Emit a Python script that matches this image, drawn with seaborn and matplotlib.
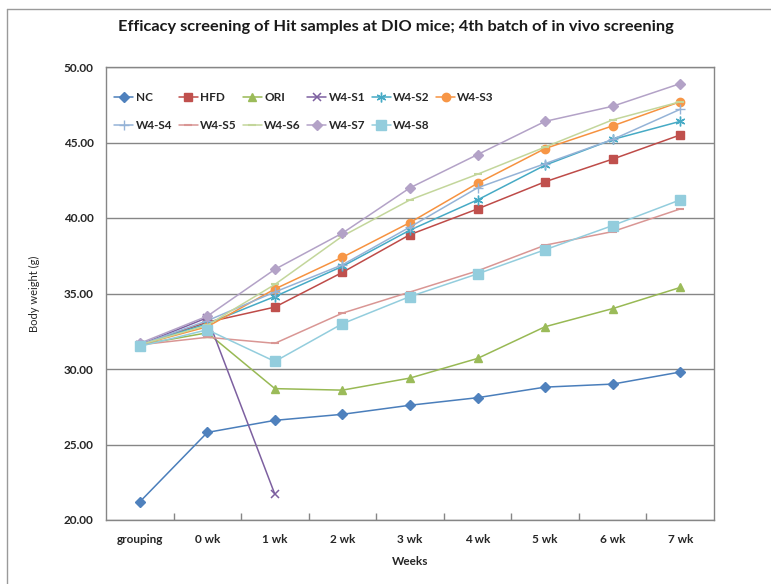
import numpy as np
import pandas as pd
import matplotlib
matplotlib.use("Agg")
import matplotlib.pyplot as plt
import seaborn as sns
from matplotlib.lines import Line2D

# Body weight (g) per group over the screening period
categories = ["grouping", "0 wk", "1 wk", "2 wk", "3 wk", "4 wk", "5 wk", "6 wk", "7 wk"]
nc     = [21.2, 25.8, 26.6, 27.0, 27.6, 28.1, 28.8, 29.0, 29.8]
hfd    = [31.6, 33.1, 34.1, 36.4, 38.9, 40.6, 42.4, 43.9, 45.5]
ori    = [31.6, 32.4, 28.7, 28.6, 29.4, 30.7, 32.8, 34.0, 35.4]
w4_s1  = [31.6, 33.4, 21.7, np.nan, np.nan, np.nan, np.nan, np.nan, np.nan]
w4_s2  = [31.6, 33.0, 34.8, 36.8, 39.2, 41.2, 43.5, 45.2, 46.4]
w4_s3  = [31.6, 32.8, 35.3, 37.4, 39.7, 42.3, 44.6, 46.1, 47.7]
w4_s4  = [31.6, 33.2, 35.1, 36.9, 39.4, 42.0, 43.6, 45.2, 47.2]
w4_s5  = [31.6, 32.1, 31.7, 33.7, 35.1, 36.5, 38.2, 39.1, 40.6]
w4_s6  = [31.6, 32.9, 35.6, 38.8, 41.2, 42.9, 44.7, 46.5, 47.7]
w4_s7  = [31.7, 33.5, 36.6, 39.0, 42.0, 44.2, 46.4, 47.4, 48.9]
w4_s8  = [31.5, 32.6, 30.5, 33.0, 34.8, 36.3, 37.9, 39.5, 41.2]
y_ticks = [20, 25, 30, 35, 40, 45, 50]

series_names = ["NC", "HFD", "ORI", "W4-S1", "W4-S2", "W4-S3",
                "W4-S4", "W4-S5", "W4-S6", "W4-S7", "W4-S8"]
series_values = [nc, hfd, ori, w4_s1, w4_s2, w4_s3, w4_s4, w4_s5, w4_s6, w4_s7, w4_s8]

# line colour, marker colour, marker, marker size, marker edge width
styles = {
    "NC":    ("#4A7EBB", "#4F81BD", "D", 4.6, 1.0),
    "HFD":   ("#BE4B48", "#C0504D", "s", 5.6, 1.0),
    "ORI":   ("#98B954", "#9BBB59", "^", 6.0, 1.0),
    "W4-S1": ("#7D60A0", "#7D60A0", "x", 5.5, 1.1),
    "W4-S2": ("#46AAC5", "#46AAC5", (6, 2, 0), 7.0, 1.0),
    "W4-S3": ("#F69240", "#F79646", "o", 6.0, 1.0),
    "W4-S4": ("#95B3D7", "#95B3D7", "+", 7.0, 1.0),
    "W4-S5": ("#D99694", "#D99694", "_", 5.5, 1.5),
    "W4-S6": ("#C3D69B", "#C3D69B", "_", 5.5, 1.5),
    "W4-S7": ("#B3A2C7", "#B3A2C7", "D", 5.0, 1.0),
    "W4-S8": ("#93CDDD", "#93CDDD", "s", 6.5, 1.0),
}

sns.set_theme(style="white")
plt.rcParams["font.family"] = ["Lato", "DejaVu Sans"]

fig = plt.figure(figsize=(7.71, 5.84), dpi=100)
ax = fig.add_axes([106 / 771, 64 / 584, 608 / 771, 453 / 584])

x_pos = np.arange(len(categories))
frames = []
for name, vals in zip(series_names, series_values):
    frames.append(pd.DataFrame({"pos": x_pos, "weight": vals, "group": name}))
df = pd.concat(frames, ignore_index=True)

for name in series_names:
    lc, mc, mk, ms, mew = styles[name]
    sub = df[df["group"] == name].dropna()
    sns.lineplot(data=sub, x="pos", y="weight", ax=ax, color=lc, linewidth=1.1,
                 marker=mk, markersize=ms, markerfacecolor=mc, markeredgecolor=mc,
                 markeredgewidth=mew, label=name, legend=False, zorder=3)

ax.set_xlim(-0.5, len(categories) - 0.5)
ax.set_ylim(20, 50)
ax.set_yticks(y_ticks)
ax.set_yticklabels([f"{v:.2f}" for v in y_ticks], fontsize=8.5, fontweight="bold", color="#262626")
ax.set_xticks(x_pos)
ax.set_xticklabels(categories, fontsize=8.5, fontweight="bold", color="#262626")
ax.set_xticks(np.arange(0.5, len(categories) - 1, 1.0), minor=True)
ax.tick_params(axis="x", which="major", length=0, pad=10)
ax.tick_params(axis="x", which="minor", length=5, direction="in", color="#868686", width=1, bottom=True)
ax.tick_params(axis="y", which="major", length=0, pad=9)

ax.grid(axis="y", color="#868686", linewidth=1.0)
ax.set_axisbelow(True)
for side in ["left", "bottom", "top", "right"]:
    ax.spines[side].set_color("#868686")
    ax.spines[side].set_linewidth(1.0)
    ax.spines[side].set_visible(True)

ax.set_xlabel("Weeks", fontsize=8.5, fontweight="bold", color="#262626", labelpad=8)
ax.set_ylabel("Body weight (g)", fontsize=8, color="#262626", labelpad=17)

# legend laid out row by row: NC..W4-S3 on top, W4-S4..W4-S8 below
order = ["NC", "W4-S4", "HFD", "W4-S5", "ORI", "W4-S6", "W4-S1", "W4-S7", "W4-S2", "W4-S8", "W4-S3"]
handles = []
for name in order:
    lc, mc, mk, ms, mew = styles[name]
    handles.append(Line2D([0], [0], color=lc, linewidth=1.1, marker=mk, markersize=ms,
                          markerfacecolor=mc, markeredgecolor=mc, markeredgewidth=mew))
leg = ax.legend(handles, order, ncol=6, loc="upper left", bbox_to_anchor=(0.006, 0.955),
                frameon=False, prop={"size": 8.5, "weight": "bold"}, handlelength=1.6,
                handletextpad=0.2, columnspacing=0.55, labelspacing=1.45, borderaxespad=0,
                numpoints=1)
for t in leg.get_texts():
    t.set_color("#262626")

fig.text(0.514, 1 - 27 / 584, "Efficacy screening of Hit samples at DIO mice; 4th batch of in vivo screening",
         ha="center", va="center", fontsize=11.8, fontweight="bold", color="#1a1a1a")

# outer chart frame
fig.add_artist(Line2D([7 / 771, 7 / 771], [0, 1 - 9 / 584], transform=fig.transFigure,
                      color="#9a9a9a", linewidth=1.0))
fig.add_artist(Line2D([7 / 771, 1], [1 - 9 / 584, 1 - 9 / 584], transform=fig.transFigure,
                      color="#9a9a9a", linewidth=1.0))

fig.savefig("out.png", dpi=100, facecolor="white")
